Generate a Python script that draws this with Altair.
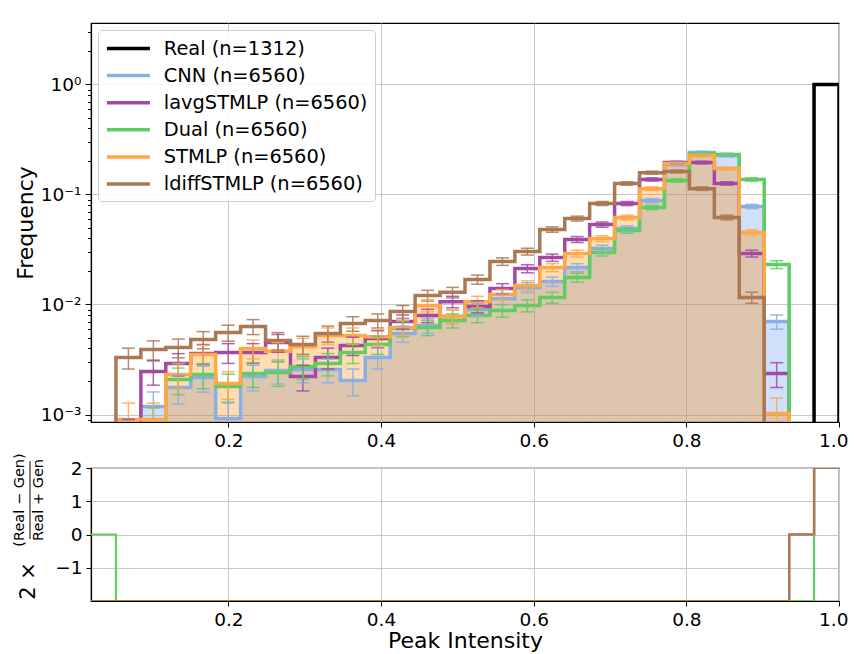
import altair as alt
import numpy as np
import pandas as pd

# ---------------- data ----------------
N_BINS = 30
X_MIN, X_MAX = 0.02, 1.0
EDGES = [round(float(e), 5) for e in np.linspace(X_MIN, X_MAX, N_BINS + 1)]

SERIES = ["Real (n=1312)", "CNN (n=6560)", "lavgSTMLP (n=6560)",
          "Dual (n=6560)", "STMLP (n=6560)", "ldiffSTMLP (n=6560)"]
COLORS = ["#000000", "#8aaee6", "#a349a4", "#60cd60", "#ffa845", "#aa7852"]
FILLS = {"CNN (n=6560)": "#6495ed", "STMLP (n=6560)": "#ff8c00"}
N_EVENTS = [1312, 6560, 6560, 6560, 6560, 6560]

REAL = [0, 0, 0, 0, 0, 0, 0, 0, 0, 0, 0, 0, 0, 0, 0,
        0, 0, 0, 0, 0, 0, 0, 0, 0, 0, 0, 0, 0, 0, 1.0]
CNN = [0.0003, 0.0006, 0.00118, 0.00176, 0.00217, 0.00092, 0.00222, 0.00251, 0.00257, 0.00257,
       0.00204, 0.0033, 0.00545, 0.00645, 0.0078, 0.009, 0.0113, 0.0143, 0.0162, 0.0217,
       0.0323, 0.0491, 0.0882, 0.187, 0.241, 0.226, 0.0778, 0.007, 0, 0]
LAVG = [0.0003, 0.0006, 0.00246, 0.00291, 0.00359, 0.00366, 0.00366, 0.00451, 0.00222, 0.0033,
        0.00424, 0.00491, 0.007, 0.00794, 0.0106, 0.0096, 0.014, 0.0212, 0.0267, 0.039,
        0.0533, 0.0828, 0.137, 0.195, 0.195, 0.126, 0.0291, 0.00236, 0, 0]
DUAL = [0, 0.0005, 0.0008, 0.00208, 0.00231, 0.0018, 0.00236, 0.00241, 0.00273, 0.00291,
        0.00366, 0.00433, 0.00605, 0.00618, 0.00716, 0.00794, 0.00882, 0.0098, 0.0116, 0.0176,
        0.0297, 0.0471, 0.0762, 0.134, 0.236, 0.231, 0.137, 0.0231, 0.0003, 0]
STMLP = [0.0003, 0.0009, 0.0009, 0.00231, 0.00351, 0.00191, 0.00398, 0.00375, 0.00413, 0.00523,
         0.00523, 0.0051, 0.00618, 0.0098, 0.00778, 0.0106, 0.0123, 0.0149, 0.0217, 0.0291,
         0.0398, 0.0618, 0.113, 0.191, 0.226, 0.172, 0.0451, 0.00102, 0, 0]
LDIFF = [0.0003, 0.0033, 0.0039, 0.00406, 0.00481, 0.00556, 0.00631, 0.00471, 0.00433, 0.00545,
         0.00672, 0.00716, 0.00863, 0.0121, 0.0129, 0.0169, 0.0246, 0.0303, 0.0481, 0.0605,
         0.0828, 0.126, 0.158, 0.162, 0.113, 0.0618, 0.0116, 0.0005, 0, 0]

# ratio panel: 2*(Real-Gen)/(Real+Gen) per bin
R_CNN = [-2] * 28 + [0, 2]
R_LAVG = [-2] * 28 + [0, 2]
R_DUAL = [0] + [-2] * 28 + [2]
R_STMLP = [-2] * 28 + [0, 2]
R_LDIFF = [-2] * 28 + [0, 2]

X_TICKS = [0.2, 0.4, 0.6, 0.8, 1.0]
Y_DOMAIN = [8.55e-4, 3.62]
R_TICKS = [-1, 0, 1, 2]

VALUES = [REAL, CNN, LAVG, DUAL, STMLP, LDIFF]
RATIOS = [R_CNN, R_LAVG, R_DUAL, R_STMLP, R_LDIFF]

FLOOR = 1e-6
FONT = "DejaVu Sans"

# ---------------- tables ----------------
step_rows, err_rows, bar_rows = [], [], []
for name, vals, n in zip(SERIES, VALUES, N_EVENTS):
    pts = [(EDGES[0], FLOOR)] + [(EDGES[i], v if v > 0 else FLOOR) for i, v in enumerate(vals)] \
          + [(EDGES[-1], FLOOR)]
    for k, (x, y) in enumerate(pts):
        step_rows.append({"series": name, "x": x, "y": y, "k": k})
    if name in FILLS:
        for i, v in enumerate(vals):
            if v > 0:
                bar_rows.append({"series": name, "x0": EDGES[i], "x1": EDGES[i + 1],
                                 "v": v, "floor": FLOOR})
    if name.startswith("Real"):
        continue
    for i, v in enumerate(vals):
        if v > 0:
            e = float(np.sqrt(v * n) / n)
            err_rows.append({"series": name, "xc": (EDGES[i] + EDGES[i + 1]) / 2,
                             "lo": max(v - e, FLOOR), "hi": v + e})
steps = pd.DataFrame(step_rows)
errs = pd.DataFrame(err_rows)
bars = pd.DataFrame(bar_rows)

ratio_rows = []
for name, vals in zip(SERIES[1:], RATIOS):
    pts = [(EDGES[i], v) for i, v in enumerate(vals)] + [(EDGES[-1], vals[-1])]
    for k, (x, y) in enumerate(pts):
        ratio_rows.append({"series": name, "x": x, "r": y, "k": k})
ratios = pd.DataFrame(ratio_rows)

# ---------------- scales / axes ----------------
xscale = alt.Scale(domain=[X_MIN, X_MAX], zero=False, nice=False)
yscale = alt.Scale(type="log", domain=Y_DOMAIN, nice=False)
cscale = alt.Scale(domain=SERIES, range=COLORS)

y_vals = []
for ex in range(-4, 1):
    for m in range(1, 10):
        v = float(f"{m}e{ex}")
        if Y_DOMAIN[0] <= v <= Y_DOMAIN[1]:
            y_vals.append(v)
MAJOR = "abs(log(datum.value)/LN10 - round(log(datum.value)/LN10)) < 1e-6"
LABEL = ("abs(datum.value-1)<1e-9 ? '10⁰' : abs(datum.value-0.1)<1e-10 ? '10⁻¹' : "
         "abs(datum.value-0.01)<1e-11 ? '10⁻²' : abs(datum.value-0.001)<1e-12 ? '10⁻³' : ''")

x_axis_main = alt.Axis(values=X_TICKS, format=".1f", title=None, grid=True,
                       labelFlush=True, labelFlushOffset=9)
y_axis_main = alt.Axis(values=y_vals, labelExpr=LABEL, title="Frequency", grid=True,
                       gridOpacity={"condition": {"test": MAJOR, "value": 1}, "value": 0},
                       tickSize={"condition": {"test": MAJOR, "value": 6}, "value": 3.5},
                       titlePadding=3)

legend = alt.Legend(orient="top-left", offset=7, title=None,
                    symbolType="M-1,0H3.48", symbolSize=369, symbolStrokeWidth=3.5,
                    labelFontSize=19.4, labelFont=FONT,
                    fillColor="rgba(255,255,255,0.85)", strokeColor="#cccccc", cornerRadius=4,
                    padding=7, rowPadding=6.1, labelOffset=35.8, labelLimit=500)

fill_cnn = alt.Chart(bars).transform_filter(alt.datum.series == SERIES[1]).mark_rect(
    color=FILLS[SERIES[1]], opacity=0.3, clip=True).encode(
    x=alt.X("x0:Q", scale=xscale, axis=x_axis_main), x2="x1:Q",
    y=alt.Y("v:Q", scale=yscale, axis=y_axis_main), y2="floor:Q")
fill_st = alt.Chart(bars).transform_filter(alt.datum.series == SERIES[4]).mark_rect(
    color=FILLS[SERIES[4]], opacity=0.3, clip=True).encode(
    x="x0:Q", x2="x1:Q", y="v:Q", y2="floor:Q")
lines = alt.Chart(steps).mark_line(interpolate="step-after", strokeWidth=3.5, clip=True).encode(
    x="x:Q", y="y:Q", order="k:Q",
    color=alt.Color("series:N", scale=cscale, legend=legend))
ebars = alt.Chart(errs).mark_rule(strokeWidth=1.5, opacity=0.85, clip=True).encode(
    x="xc:Q", y="lo:Q", y2="hi:Q",
    color=alt.Color("series:N", scale=cscale, legend=None))
caps_lo = alt.Chart(errs).mark_tick(orient="horizontal", size=13, thickness=1.5,
                                    opacity=0.85, clip=True).encode(
    x="xc:Q", y="lo:Q", color=alt.Color("series:N", scale=cscale, legend=None))
caps_hi = alt.Chart(errs).mark_tick(orient="horizontal", size=13, thickness=1.5,
                                    opacity=0.85, clip=True).encode(
    x="xc:Q", y="hi:Q", color=alt.Color("series:N", scale=cscale, legend=None))

main = alt.layer(fill_cnn, fill_st, lines, ebars, caps_lo, caps_hi).properties(
    width=748, height=399)

# ---------------- ratio panel ----------------
rscale = alt.Scale(domain=[-2, 2], nice=False, zero=False)
rlines = alt.Chart(ratios).mark_line(interpolate="step-after", strokeWidth=2.2, clip=True).encode(
    x=alt.X("x:Q", scale=xscale,
            axis=alt.Axis(values=X_TICKS, format=".1f", title="Peak Intensity", grid=True,
                          titlePadding=2, labelFlush=True, labelFlushOffset=9)),
    y=alt.Y("r:Q", scale=rscale, axis=alt.Axis(values=R_TICKS, title=None, grid=True)),
    order="k:Q",
    color=alt.Color("series:N", scale=alt.Scale(domain=SERIES[1:], range=COLORS[1:]), legend=None))

def label(txt, px, py, size):
    return alt.Chart(pd.DataFrame({"t": [txt]})).mark_text(
        angle=270, fontSize=size, font=FONT, color="black", align="center", baseline="middle").encode(
        text="t:N", x=alt.value(px), y=alt.value(py))

two = label("2 ×", -62, 113, 21)
num = label("(Real − Gen)", -71, 32, 14.5)
den = label("Real + Gen", -52, 32, 14.5)
bar = alt.Chart(pd.DataFrame({"t": [0]})).mark_rule(color="black", strokeWidth=1).encode(
    x=alt.value(-61), y=alt.value(-7), y2=alt.value(71))

lower = alt.layer(rlines, two, num, den, bar).properties(width=748, height=133)

chart = alt.vconcat(main, lower, spacing=46, bounds="flush").resolve_scale(
    color="independent").properties(
    padding={"left": 3, "top": 14, "right": 0, "bottom": 2}
).configure_view(stroke="black", strokeWidth=1.2).configure_axis(
    domainColor="black", tickColor="black", labelColor="black", titleColor="black",
    labelFont=FONT, titleFont=FONT, labelFontSize=18.5, titleFontSize=22,
    titleFontWeight="normal", gridColor="#c8c8c8", gridWidth=1, tickSize=5, labelPadding=4,
    domainWidth=1.2)

chart.save("out.html", embed_options={"renderer": "svg", "actions": False})
